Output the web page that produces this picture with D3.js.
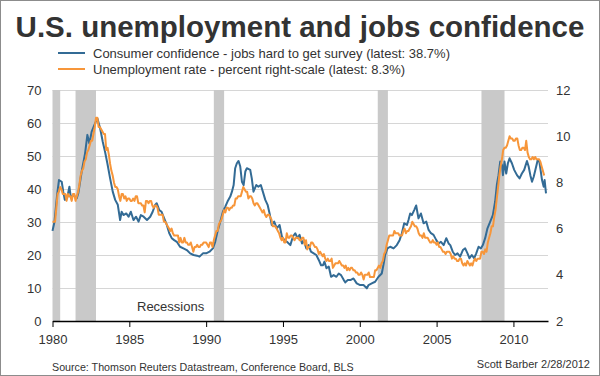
<!DOCTYPE html>
<html>
<head>
<meta charset="utf-8">
<script src="https://cdn.jsdelivr.net/npm/d3@7"></script>
<style>
  body { margin: 0; background: #fff; }
  svg { display: block; font-family: "Liberation Sans", Arial, sans-serif; }
</style>
</head>
<body>
<svg></svg>
<script>
// unemployment rate, monthly from Jan 1980 (right scale)
let unempStart = 1980
let unempValues = [
  6.3, 6.3, 6.3, 6.9, 7.5, 7.6, 7.8, 7.7, 7.5, 7.5, 7.5, 7.2,
  7.5, 7.4, 7.4, 7.2, 7.5, 7.5, 7.2, 7.4, 7.6, 7.9, 8.3, 8.5,
  8.6, 8.9, 9.0, 9.3, 9.4, 9.6, 9.8, 9.8, 10.1, 10.4, 10.8, 10.8,
  10.4, 10.4, 10.3, 10.2, 10.1, 10.1, 9.4, 9.5, 9.2, 8.8, 8.5, 8.3,
  8.0, 7.8, 7.8, 7.7, 7.4, 7.2, 7.5, 7.5, 7.3, 7.4, 7.2, 7.3,
  7.3, 7.2, 7.2, 7.3, 7.2, 7.4, 7.4, 7.1, 7.1, 7.1, 7.0, 7.0,
  6.7, 7.2, 7.2, 7.1, 7.2, 7.2, 7.0, 6.9, 7.0, 7.0, 6.9, 6.6,
  6.6, 6.6, 6.6, 6.3, 6.3, 6.2, 6.1, 6.0, 5.9, 6.0, 5.8, 5.7,
  5.7, 5.7, 5.7, 5.4, 5.6, 5.4, 5.4, 5.6, 5.4, 5.4, 5.3, 5.3,
  5.4, 5.2, 5.0, 5.2, 5.2, 5.3, 5.2, 5.2, 5.3, 5.3, 5.4, 5.4,
  5.4, 5.3, 5.2, 5.4, 5.4, 5.2, 5.5, 5.7, 5.9, 5.9, 6.2, 6.3,
  6.4, 6.6, 6.8, 6.7, 6.9, 6.9, 6.8, 6.9, 6.9, 7.0, 7.0, 7.3,
  7.3, 7.4, 7.4, 7.4, 7.6, 7.8, 7.7, 7.6, 7.6, 7.3, 7.4, 7.4,
  7.3, 7.1, 7.0, 7.1, 7.1, 7.0, 6.9, 6.8, 6.7, 6.8, 6.6, 6.5,
  6.6, 6.6, 6.5, 6.4, 6.1, 6.1, 6.1, 6.0, 5.9, 5.8, 5.6, 5.5,
  5.6, 5.4, 5.4, 5.8, 5.6, 5.6, 5.7, 5.7, 5.6, 5.5, 5.6, 5.6,
  5.6, 5.5, 5.5, 5.6, 5.6, 5.3, 5.5, 5.1, 5.2, 5.2, 5.4, 5.4,
  5.3, 5.2, 5.2, 5.1, 4.9, 5.0, 4.9, 4.8, 4.9, 4.7, 4.6, 4.7,
  4.6, 4.6, 4.7, 4.3, 4.4, 4.5, 4.5, 4.5, 4.6, 4.5, 4.4, 4.4,
  4.3, 4.4, 4.2, 4.3, 4.2, 4.3, 4.3, 4.2, 4.2, 4.1, 4.1, 4.0,
  4.0, 4.1, 4.0, 3.8, 4.0, 4.0, 4.0, 4.1, 3.9, 3.9, 3.9, 3.9,
  4.2, 4.2, 4.3, 4.4, 4.3, 4.5, 4.6, 4.9, 5.0, 5.3, 5.5, 5.7,
  5.7, 5.7, 5.7, 5.9, 5.8, 5.8, 5.8, 5.7, 5.7, 5.7, 5.9, 6.0,
  5.8, 5.9, 5.9, 6.0, 6.1, 6.3, 6.2, 6.1, 6.1, 6.0, 5.8, 5.7,
  5.7, 5.6, 5.8, 5.6, 5.6, 5.6, 5.5, 5.4, 5.4, 5.5, 5.4, 5.4,
  5.3, 5.4, 5.2, 5.2, 5.1, 5.0, 5.0, 4.9, 5.0, 5.0, 5.0, 4.9,
  4.7, 4.8, 4.7, 4.7, 4.6, 4.6, 4.7, 4.7, 4.5, 4.4, 4.5, 4.4,
  4.6, 4.5, 4.4, 4.5, 4.4, 4.6, 4.7, 4.6, 4.7, 4.7, 4.7, 5.0,
  5.0, 4.9, 5.1, 5.0, 5.4, 5.6, 5.8, 6.1, 6.1, 6.5, 6.8, 7.3,
  7.8, 8.3, 8.7, 9.0, 9.4, 9.5, 9.5, 9.6, 9.8, 10.0, 9.9, 9.9,
  9.8, 9.8, 9.9, 9.9, 9.6, 9.4, 9.4, 9.5, 9.5, 9.4, 9.8, 9.3,
  9.1, 9.0, 9.0, 9.1, 9.0, 9.1, 9.0, 9.0, 9.0, 8.9, 8.7, 8.5,
  8.3
]

// jobs hard to get (left scale)
let confYears = [
  1980.0, 1980.13, 1980.3, 1980.42, 1980.6, 1980.7, 1980.8, 1980.95, 1981.1, 1981.2,
  1981.36, 1981.58, 1981.68, 1981.9, 1982.12, 1982.27, 1982.4, 1982.55, 1982.77, 1982.92,
  1983.1, 1983.27, 1983.42, 1983.57, 1983.75, 1983.92, 1984.08, 1984.25, 1984.4, 1984.5,
  1984.62, 1984.8, 1984.95, 1985.1, 1985.27, 1985.44, 1985.6, 1985.75, 1985.93, 1986.15,
  1986.36, 1986.52, 1986.68, 1986.78, 1986.95, 1987.1, 1987.27, 1987.44, 1987.6, 1987.76,
  1987.92, 1988.09, 1988.3, 1988.52, 1988.74, 1988.96, 1989.18, 1989.4, 1989.57, 1989.79,
  1990.0, 1990.22, 1990.44, 1990.59, 1990.74, 1990.92, 1991.09, 1991.24, 1991.39, 1991.57,
  1991.68, 1991.79, 1991.89, 1992.0, 1992.11, 1992.22, 1992.33, 1992.44, 1992.55, 1992.65,
  1992.87, 1992.97, 1993.08, 1993.26, 1993.4, 1993.56, 1993.69, 1993.85, 1994.0, 1994.13,
  1994.27, 1994.43, 1994.6, 1994.78, 1994.93, 1995.09, 1995.26, 1995.48, 1995.65, 1995.8,
  1995.95, 1996.08, 1996.24, 1996.35, 1996.52, 1996.67, 1996.82, 1997.0, 1997.17, 1997.33,
  1997.48, 1997.61, 1997.7, 1997.83, 1997.98, 1998.13, 1998.3, 1998.48, 1998.63, 1998.78,
  1998.96, 1999.06, 1999.22, 1999.39, 1999.59, 1999.8, 2000.02, 2000.24, 2000.46, 2000.57,
  2000.78, 2001.0, 2001.22, 2001.43, 2001.54, 2001.65, 2001.8, 2001.98, 2002.2, 2002.41,
  2002.59, 2002.74, 2002.89, 2003.07, 2003.17, 2003.28, 2003.39, 2003.54, 2003.67, 2003.82,
  2003.98, 2004.15, 2004.33, 2004.48, 2004.63, 2004.8, 2004.98, 2005.13, 2005.28, 2005.46,
  2005.63, 2005.78, 2005.89, 2006.05, 2006.2, 2006.36, 2006.53, 2006.71, 2006.86, 2007.01,
  2007.14, 2007.29, 2007.44, 2007.58, 2007.73, 2007.88, 2008.01, 2008.16, 2008.31, 2008.49,
  2008.66, 2008.81, 2008.92, 2009.03, 2009.14, 2009.25, 2009.32, 2009.42, 2009.53, 2009.64,
  2009.75, 2009.9, 2010.05, 2010.23, 2010.4, 2010.55, 2010.7, 2010.88, 2010.99, 2011.1,
  2011.21, 2011.32, 2011.43, 2011.58, 2011.67, 2011.75, 2011.86, 2011.97, 2012.03, 2012.12
]
let confValues = [
  27.3, 30.1, 38.2, 42.7, 42.2, 39.2, 36.7, 37.2, 40.7, 37.2,
  38.2, 37.2, 38.7, 45.3, 50.8, 56.4, 53.8, 57.4, 59.9, 61.4,
  58.4, 54.3, 51.3, 47.8, 43.2, 39.2, 36.7, 35.2, 30.6, 33.1,
  32.1, 32.6, 31.6, 33.1, 30.6, 31.6, 30.1, 32.1, 31.6, 30.6,
  31.6, 33.1, 35.2, 35.7, 33.6, 33.1, 31.1, 29.1, 26.6, 25.1,
  24.5, 24.0, 22.5, 22.0, 21.5, 20.5, 20.0, 19.8, 19.5, 20.5,
  20.5, 21.0, 22.0, 24.0, 27.1, 30.1, 33.1, 34.6, 36.2, 37.7,
  39.2, 41.2, 46.3, 47.8, 48.5, 46.8, 42.2, 41.2, 45.3, 46.3,
  45.8, 43.2, 39.2, 41.2, 40.7, 41.2, 39.2, 36.7, 35.2, 32.6,
  29.1, 30.1, 28.1, 29.1, 25.6, 24.5, 24.0, 23.0, 25.6, 26.6,
  25.1, 26.1, 23.5, 24.5, 22.0, 23.0, 21.0, 20.5, 20.0, 18.5,
  16.9, 16.9, 18.0, 16.0, 16.5, 13.4, 13.9, 13.4, 14.4, 13.9,
  12.4, 11.7, 12.4, 12.4, 12.9, 11.4, 10.9, 10.9, 9.9, 10.9,
  11.4, 11.9, 13.4, 14.4, 17.0, 20.0, 22.0, 22.5, 22.0, 23.0,
  24.5, 26.6, 29.6, 29.1, 30.6, 32.6, 32.1, 33.6, 35.0, 31.1,
  32.6, 29.6, 30.1, 27.6, 26.6, 26.1, 24.5, 23.5, 24.0, 23.0,
  25.1, 23.5, 23.0, 21.0, 20.0, 20.5, 19.5, 21.5, 22.0, 20.5,
  19.0, 20.0, 19.0, 20.5, 22.5, 22.0, 23.0, 25.1, 28.1, 30.1,
  32.1, 36.2, 41.2, 44.2, 48.3, 47.3, 44.2, 48.3, 44.7, 47.8,
  49.3, 47.8, 45.8, 44.2, 43.2, 44.7, 45.8, 48.5, 46.8, 44.2,
  42.2, 43.7, 45.8, 48.8, 48.8, 46.3, 42.7, 40.7, 42.7, 38.7
]

let recessionStarts = [1980.0, 1981.5, 1990.5, 2001.17, 2007.92]
let recessionEnds = [1980.5, 1982.83, 1991.17, 2001.83, 2009.42]

let xTicks = [1980, 1985, 1990, 1995, 2000, 2005, 2010]
let leftTicks = [0, 10, 20, 30, 40, 50, 60, 70]
let rightTicks = [2, 4, 6, 8, 10, 12]

let titleText = "U.S. unemployment and jobs confidence"
let seriesNames = [
  "Consumer confidence - jobs hard to get survey (latest: 38.7%)",
  "Unemployment rate - percent right-scale (latest: 8.3%)"
]
let seriesColors = ["#336b95", "#f7963a"]
let sourceText = "Source: Thomson Reuters Datastream, Conference Board, BLS"
let creditText = "Scott Barber 2/28/2012"

let width = 600
let height = 376
let plotLeft = 52.5
let plotRight = 548
let plotTop = 90
let plotBottom = 321
let textColor = "#333"

let svg = d3.select("svg")
  .attr("width", width)
  .attr("height", height)

let xScale = d3.scaleLinear()
  .domain([1980, 2012.25])
  .range([plotLeft, plotRight])

let yLeft = d3.scaleLinear()
  .domain([0, 70])
  .range([plotBottom, plotTop])

let yRight = d3.scaleLinear()
  .domain([2, 12])
  .range([plotBottom, plotTop])

// frame
svg.append("rect")
  .attr("x", 0.5)
  .attr("y", 0.5)
  .attr("width", width - 1)
  .attr("height", height - 1)
  .attr("fill", "#fff")
  .attr("stroke", "#8c8c8c")

// title
svg.append("text")
  .attr("x", width / 2)
  .attr("y", 37)
  .attr("text-anchor", "middle")
  .style("font-size", "29.5px")
  .style("font-weight", "bold")
  .attr("fill", textColor)
  .text(titleText)

// legend
let legend = svg.append("g")
seriesNames.forEach((name, i) => {
  let y = 53 + i * 16
  legend.append("line")
    .attr("x1", 58)
    .attr("x2", 85)
    .attr("y1", y)
    .attr("y2", y)
    .attr("stroke", seriesColors[i])
    .attr("stroke-width", 2)
  legend.append("text")
    .attr("x", 93)
    .attr("y", y + 4.5)
    .style("font-size", "13px")
    .attr("fill", textColor)
    .text(name)
})

// gridlines
svg.append("g")
  .selectAll("line")
  .data(leftTicks.slice(1))
  .enter()
  .append("line")
  .attr("x1", plotLeft)
  .attr("x2", plotRight)
  .attr("y1", (d) => Math.round(yLeft(d)) + 0.5)
  .attr("y2", (d) => Math.round(yLeft(d)) + 0.5)
  .attr("stroke", "#d6d6d6")

// recession bands
svg.append("g")
  .selectAll("rect")
  .data(recessionStarts)
  .enter()
  .append("rect")
  .attr("x", (d) => xScale(d))
  .attr("width", (d, i) => xScale(recessionEnds[i]) - xScale(d))
  .attr("y", plotTop)
  .attr("height", plotBottom - plotTop)
  .attr("fill", "#c9c9c9")

svg.append("text")
  .attr("x", 137)
  .attr("y", 311)
  .style("font-size", "13px")
  .attr("fill", textColor)
  .text("Recessions")

// axes
let xAxis = d3.axisBottom(xScale)
  .tickValues(xTicks)
  .tickFormat(d3.format("d"))
  .tickSizeInner(6)
  .tickSizeOuter(0)

let gx = svg.append("g")
  .attr("transform", "translate(0, " + plotBottom + ")")
  .call(xAxis)
gx.select(".domain").attr("stroke", "#000").attr("stroke-width", 1.5)
gx.selectAll(".tick line").attr("stroke", "#000")
gx.selectAll(".tick text")
  .attr("fill", textColor)
  .attr("dy", "1.05em")
  .style("font-size", "13px")
  .style("font-family", "Liberation Sans, Arial, sans-serif")

let leftAxis = d3.axisLeft(yLeft)
  .tickValues(leftTicks)
  .tickSize(0)
  .tickPadding(11)

let gl = svg.append("g")
  .attr("transform", "translate(" + plotLeft + ", 0)")
  .call(leftAxis)
gl.select(".domain").remove()
gl.selectAll(".tick text")
  .attr("fill", textColor)
  .style("font-size", "13px")
  .style("font-family", "Liberation Sans, Arial, sans-serif")

let rightAxis = d3.axisRight(yRight)
  .tickValues(rightTicks)
  .tickSize(0)
  .tickPadding(8)

let gr = svg.append("g")
  .attr("transform", "translate(" + plotRight + ", 0)")
  .call(rightAxis)
gr.select(".domain").remove()
gr.selectAll(".tick text")
  .attr("fill", textColor)
  .style("font-size", "13px")
  .style("font-family", "Liberation Sans, Arial, sans-serif")

// lines
let confLine = d3.line()
  .x((d, i) => xScale(confYears[i]))
  .y((d) => yLeft(d))

let unempLine = d3.line()
  .x((d, i) => xScale(unempStart + i / 12))
  .y((d) => yRight(d))

svg.append("path")
  .attr("d", confLine(confValues))
  .attr("fill", "none")
  .attr("stroke", seriesColors[0])
  .attr("stroke-width", 2)
  .attr("stroke-linejoin", "round")

svg.append("path")
  .attr("d", unempLine(unempValues))
  .attr("fill", "none")
  .attr("stroke", seriesColors[1])
  .attr("stroke-width", 2)
  .attr("stroke-linejoin", "round")

// footer
svg.append("text")
  .attr("x", 52)
  .attr("y", 371)
  .style("font-size", "10.7px")
  .attr("fill", textColor)
  .text(sourceText)

svg.append("text")
  .attr("x", 590)
  .attr("y", 368)
  .attr("text-anchor", "end")
  .style("font-size", "11px")
  .attr("fill", textColor)
  .text(creditText)
</script>
</body>
</html>
